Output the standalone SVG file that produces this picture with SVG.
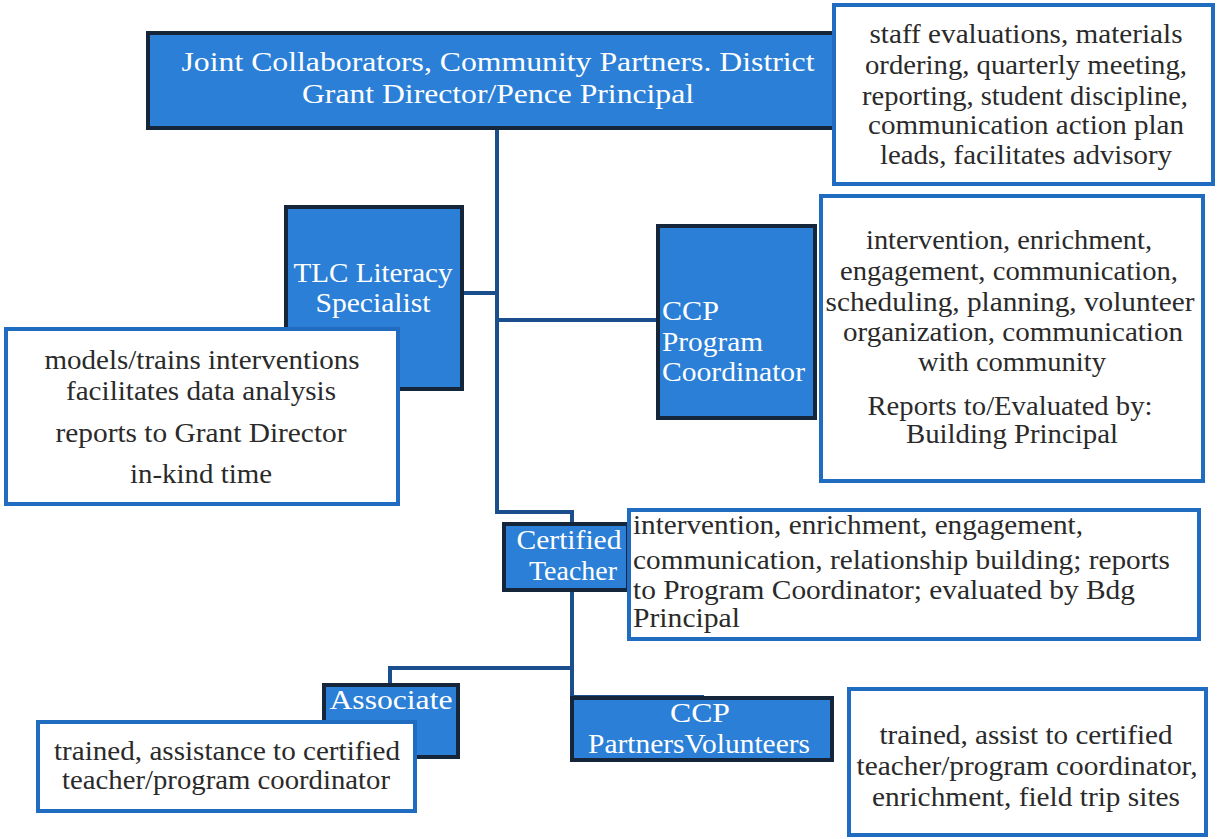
<svg xmlns="http://www.w3.org/2000/svg" width="1217" height="839" viewBox="0 0 1217 839">
<style>
.bg{fill:#ffffff}
.role{fill:#2b7fd6;stroke:#16263a;stroke-width:4}
.note{fill:#ffffff;stroke:#1f6cc0;stroke-width:4}
.conn{fill:none;stroke:#1a4e8c;stroke-width:4}
.rt{font-family:"Liberation Serif","Times New Roman",serif;font-size:28px;fill:#ffffff}
.nt{font-family:"Liberation Serif","Times New Roman",serif;font-size:28px;fill:#2a2a2a}
.c{text-anchor:middle}
text{lengthAdjust:spacingAndGlyphs}
</style>
<rect class="bg" x="0" y="0" width="1217" height="839"/>
<g id="connectors">
<path class="conn" d="M497 128 V512 H572 V523"/>
<path class="conn" d="M462 293 H497"/>
<path class="conn" d="M497 320 H658"/>
<path class="conn" d="M572 590 V697 H702 V698"/>
<path class="conn" d="M572 668 H390 V685"/>
</g>
<g id="node-top">
<rect class="role" x="148" y="33" width="692" height="95"/>
<text class="rt c" x="498" y="71" textLength="633" lengthAdjust="spacingAndGlyphs">Joint Collaborators, Community Partners. District</text>
<text class="rt c" x="498" y="103" textLength="392" lengthAdjust="spacingAndGlyphs">Grant Director/Pence Principal</text>
</g>
<g id="node-top-note">
<rect class="note" x="834" y="5" width="379" height="179"/>
<text class="nt c" x="1026" y="43" textLength="313" lengthAdjust="spacingAndGlyphs">staff evaluations, materials</text>
<text class="nt c" x="1026" y="74" textLength="322" lengthAdjust="spacingAndGlyphs">ordering, quarterly meeting,</text>
<text class="nt c" x="1025" y="105" textLength="326" lengthAdjust="spacingAndGlyphs">reporting, student discipline,</text>
<text class="nt c" x="1026" y="134" textLength="316" lengthAdjust="spacingAndGlyphs">communication action plan</text>
<text class="nt c" x="1026" y="164" textLength="292" lengthAdjust="spacingAndGlyphs">leads, facilitates advisory</text>
</g>
<g id="node-tlc">
<rect class="role" x="286" y="207" width="176" height="182"/>
<text class="rt c" x="373" y="282" textLength="159" lengthAdjust="spacingAndGlyphs">TLC Literacy</text>
<text class="rt c" x="373" y="312" textLength="115" lengthAdjust="spacingAndGlyphs">Specialist</text>
</g>
<g id="node-tlc-note">
<rect class="note" x="6" y="329" width="392" height="175"/>
<text class="nt c" x="202" y="369" textLength="315" lengthAdjust="spacingAndGlyphs">models/trains interventions</text>
<text class="nt c" x="201" y="400" textLength="270" lengthAdjust="spacingAndGlyphs">facilitates data analysis</text>
<text class="nt c" x="201" y="442" textLength="291" lengthAdjust="spacingAndGlyphs">reports to Grant Director</text>
<text class="nt c" x="201" y="483" textLength="142" lengthAdjust="spacingAndGlyphs">in-kind time</text>
</g>
<g id="node-ccp">
<rect class="role" x="658" y="226" width="157" height="192"/>
<text class="rt" x="662" y="320" textLength="57" lengthAdjust="spacingAndGlyphs">CCP</text>
<text class="rt" x="662" y="351" textLength="101" lengthAdjust="spacingAndGlyphs">Program</text>
<text class="rt" x="662" y="381" textLength="143" lengthAdjust="spacingAndGlyphs">Coordinator</text>
</g>
<g id="node-ccp-note">
<rect class="note" x="821" y="196" width="382" height="285"/>
<text class="nt c" x="1009" y="249" textLength="286" lengthAdjust="spacingAndGlyphs">intervention, enrichment,</text>
<text class="nt c" x="1009" y="280" textLength="338" lengthAdjust="spacingAndGlyphs">engagement, communication,</text>
<text class="nt c" x="1010" y="311" textLength="369" lengthAdjust="spacingAndGlyphs">scheduling, planning, volunteer</text>
<text class="nt c" x="1013" y="341" textLength="340" lengthAdjust="spacingAndGlyphs">organization, communication</text>
<text class="nt c" x="1012" y="371" textLength="188" lengthAdjust="spacingAndGlyphs">with community</text>
<text class="nt c" x="1010" y="415" textLength="285" lengthAdjust="spacingAndGlyphs">Reports to/Evaluated by:</text>
<text class="nt c" x="1012" y="443" textLength="212" lengthAdjust="spacingAndGlyphs">Building Principal</text>
</g>
<g id="node-teacher">
<rect class="role" x="504" y="524" width="124" height="66"/>
<text class="rt c" x="569" y="549" textLength="105" lengthAdjust="spacingAndGlyphs">Certified</text>
<text class="rt c" x="573" y="580" textLength="88" lengthAdjust="spacingAndGlyphs">Teacher</text>
</g>
<g id="node-teacher-note">
<rect class="note" x="629" y="510" width="570" height="129"/>
<text class="nt" x="633" y="534" textLength="450" lengthAdjust="spacingAndGlyphs">intervention, enrichment, engagement,</text>
<text class="nt" x="633" y="569" textLength="537" lengthAdjust="spacingAndGlyphs">communication, relationship building; reports</text>
<text class="nt" x="633" y="599" textLength="502" lengthAdjust="spacingAndGlyphs">to Program Coordinator; evaluated by Bdg</text>
<text class="nt" x="633" y="627" textLength="107" lengthAdjust="spacingAndGlyphs">Principal</text>
</g>
<g id="node-associate">
<rect class="role" x="324" y="685" width="134" height="72"/>
<text class="rt c" x="391" y="709" textLength="123" lengthAdjust="spacingAndGlyphs">Associate</text>
</g>
<g id="node-associate-note">
<rect class="note" x="38" y="722" width="377" height="89"/>
<text class="nt c" x="227" y="760" textLength="346" lengthAdjust="spacingAndGlyphs">trained, assistance to certified</text>
<text class="nt c" x="226" y="789" textLength="328" lengthAdjust="spacingAndGlyphs">teacher/program coordinator</text>
</g>
<g id="node-volunteers">
<rect class="role" x="572" y="698" width="260" height="62"/>
<text class="rt c" x="700" y="722" textLength="60" lengthAdjust="spacingAndGlyphs">CCP</text>
<text class="rt c" x="699" y="753" textLength="222" lengthAdjust="spacingAndGlyphs">PartnersVolunteers</text>
</g>
<g id="node-volunteers-note">
<rect class="note" x="849" y="689" width="357" height="146"/>
<text class="nt c" x="1026" y="744" textLength="293" lengthAdjust="spacingAndGlyphs">trained, assist to certified</text>
<text class="nt c" x="1027" y="775" textLength="341" lengthAdjust="spacingAndGlyphs">teacher/program coordinator,</text>
<text class="nt c" x="1026" y="806" textLength="308" lengthAdjust="spacingAndGlyphs">enrichment, field trip sites</text>
</g>
</svg>
